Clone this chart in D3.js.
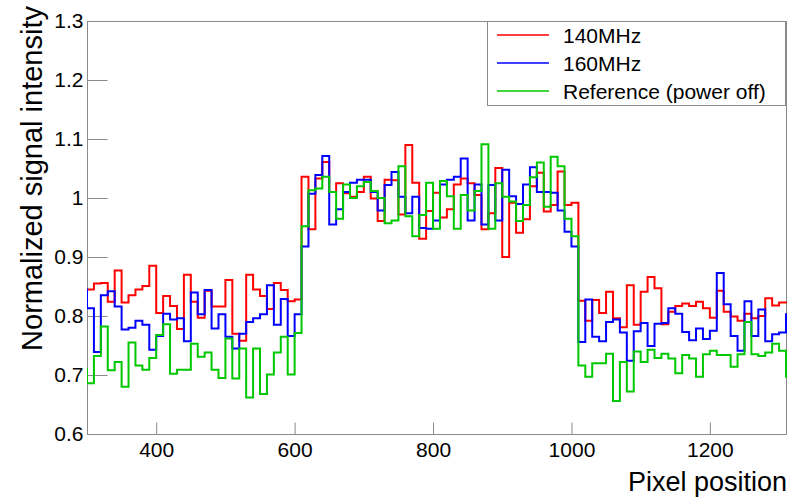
<!DOCTYPE html>
<html><head><meta charset="utf-8">
<script src="https://cdn.jsdelivr.net/npm/d3@7"></script>
<style>
html,body{margin:0;padding:0;background:#fff;}
text{font-family:"Liberation Sans",Arial,Helvetica,sans-serif;fill:#000;}
</style></head>
<body><svg id="c" width="800" height="504"></svg>
<script>
// ---- data ----
const firstBinLow = 290;   // first bin (partly outside the axis range)
const binWidth = 10;
const xDomain = [300, 1310];
const yDomain = [0.6, 1.3];
const xMajorTicks = [400, 600, 800, 1000, 1200];
const xTickLabels = ["400", "600", "800", "1000", "1200"];
const yMajorTicks = [0.6, 0.7, 0.8, 0.9, 1.0, 1.1, 1.2, 1.3];
const yTickLabels = ["0.6", "0.7", "0.8", "0.9", "1", "1.1", "1.2", "1.3"];
const seriesNames = ["140MHz", "160MHz", "Reference (power off)"];
const xTitle = "Pixel position";
const yTitle = "Normalized signal intensity";

const red140 = [0.845,
 0.845,0.855,0.856,0.824,0.877,0.823,0.835,0.845,0.851,0.885,
 0.805,0.834,0.817,0.778,0.870,0.824,0.797,0.843,0.816,0.816,
 0.861,0.770,0.758,0.870,0.845,0.834,0.812,0.856,0.844,0.825,
 0.828,1.036,0.947,1.033,1.061,1.010,1.025,1.008,1.002,1.010,
 1.036,0.999,0.961,1.031,1.030,0.972,1.090,1.026,0.931,0.978,
 1.009,0.967,0.981,1.023,1.033,1.025,1.005,0.947,0.974,1.051,
 0.900,0.992,0.941,0.964,1.020,1.043,0.977,0.988,1.045,0.988,
 0.992,0.826,0.792,0.827,0.805,0.841,0.796,0.781,0.852,0.785,
 0.841,0.866,0.847,0.786,0.807,0.817,0.821,0.817,0.824,0.813,
 0.797,0.843,0.807,0.799,0.792,0.804,0.796,0.800,0.830,0.818,
 0.823,0.823];
const blue160 = [0.845,
 0.813,0.739,0.835,0.842,0.816,0.777,0.780,0.792,0.785,0.743,
 0.766,0.804,0.794,0.796,0.757,0.840,0.803,0.844,0.779,0.803,
 0.765,0.745,0.770,0.790,0.796,0.803,0.852,0.785,0.829,0.766,
 0.803,0.918,1.007,1.039,1.071,0.955,0.981,1.010,1.026,1.031,
 1.031,1.010,0.979,1.022,1.044,1.002,0.974,1.002,0.949,0.948,
 0.962,1.023,1.031,1.036,1.067,0.962,1.023,0.955,1.022,0.962,
 1.048,1.003,0.990,1.023,1.052,1.010,1.010,1.009,0.979,0.943,
 0.918,0.756,0.828,0.765,0.757,0.790,0.794,0.772,0.724,0.774,
 0.788,0.749,0.787,0.788,0.813,0.804,0.773,0.759,0.779,0.761,
 0.775,0.873,0.820,0.766,0.741,0.825,0.766,0.811,0.757,0.769,
 0.772,0.803];
const greenRef = [0.710,
 0.686,0.732,0.782,0.708,0.722,0.680,0.755,0.716,0.709,0.729,
 0.768,0.786,0.702,0.709,0.709,0.753,0.731,0.738,0.709,0.695,
 0.762,0.694,0.745,0.662,0.745,0.668,0.701,0.738,0.765,0.701,
 0.771,0.952,1.013,1.016,1.036,1.010,0.965,1.023,1.000,1.020,
 1.027,1.012,1.000,0.957,0.962,1.054,0.969,0.935,0.971,1.026,
 0.948,1.029,1.003,0.948,1.005,0.979,1.012,1.091,0.948,1.025,
 1.002,0.994,0.961,0.988,1.035,1.060,0.985,1.070,1.054,0.965,
 0.935,0.716,0.697,0.720,0.720,0.736,0.656,0.722,0.672,0.740,
 0.722,0.743,0.729,0.736,0.728,0.703,0.734,0.728,0.697,0.735,
 0.741,0.734,0.734,0.714,0.735,0.790,0.735,0.732,0.738,0.753,
 0.741,0.697];
const seriesColors = ["#ff0000", "#0000ff", "#00c800"];

// ---- drawing ----
const svg = d3.select("#c");
const L = 87, R = 786, T = 21, B = 434;
const x = d3.scaleLinear().domain(xDomain).range([L, R]);
const y = d3.scaleLinear().domain(yDomain).range([B, T]);
const axisCol = "#8a8a8a";

svg.append("defs").append("clipPath").attr("id", "clip")
  .append("rect").attr("x", L).attr("y", T - 2).attr("width", R - L + 1).attr("height", B - T + 2);

// frame
svg.append("rect").attr("x", L + 0.5).attr("y", T + 0.5)
  .attr("width", R - L).attr("height", B - T)
  .attr("fill", "none").attr("stroke", axisCol).attr("stroke-width", 1);

// x axis
const xMinor = d3.range(300, 1311, 50).filter(v => !xMajorTicks.includes(v));
const gx = svg.append("g").attr("transform", `translate(0,${B + 0.5})`);
gx.call(d3.axisBottom(x).tickValues(xMinor).tickSize(-6).tickFormat(""));
gx.call(d3.axisBottom(x).tickValues(xMajorTicks).tickSize(-12).tickPadding(8)
  .tickFormat((d, i) => xTickLabels[i]));
gx.select(".domain").remove();
gx.selectAll("line").attr("stroke", axisCol);
gx.selectAll("text").attr("font-size", 21).style("font-family", '"Liberation Sans",Arial,sans-serif');

// y axis
const yMinor = d3.range(0, 36).map(i => +(0.6 + i * 0.02).toFixed(2)).filter(v => Math.abs(Math.round(v * 10) - v * 10) > 1e-6);
const gy = svg.append("g").attr("transform", `translate(${L + 0.5},0)`);
gy.call(d3.axisLeft(y).tickValues(yMinor).tickSize(-11).tickFormat(""));
gy.call(d3.axisLeft(y).tickValues(yMajorTicks).tickSize(-20).tickPadding(4)
  .tickFormat((d, i) => yTickLabels[i]));
gy.select(".domain").remove();
gy.selectAll("line").attr("stroke", axisCol);
gy.selectAll("text").attr("font-size", 21).style("font-family", '"Liberation Sans",Arial,sans-serif');

// histograms
const stepLine = d3.line().x(d => x(d[0])).y(d => y(d[1])).curve(d3.curveStepAfter);
[red140, blue160, greenRef].forEach((vals, k) => {
  const pts = vals.map((v, i) => [firstBinLow + i * binWidth, v]);
  pts.push([firstBinLow + vals.length * binWidth, vals[vals.length - 1]]);
  svg.append("path").attr("d", stepLine(pts)).attr("clip-path", "url(#clip)")
    .attr("fill", "none").attr("stroke", seriesColors[k]).attr("stroke-width", 2);
});

// titles
svg.append("text").attr("x", R + 1).attr("y", 491).attr("text-anchor", "end")
  .attr("font-size", 27).text(xTitle);
svg.append("text").attr("transform", `translate(42,6) rotate(-90)`).attr("text-anchor", "end")
  .attr("font-size", 29).text(yTitle);

// legend
const lg = svg.append("g");
lg.append("rect").attr("x", 487.5).attr("y", 21.5).attr("width", 298).attr("height", 84)
  .attr("fill", "#fff").attr("stroke", axisCol);
seriesNames.forEach((n, i) => {
  const cy = 35 + i * 28;
  lg.append("line").attr("x1", 497).attr("x2", 549).attr("y1", cy).attr("y2", cy)
    .attr("stroke", seriesColors[i]).attr("stroke-width", 1.5);
  lg.append("text").attr("x", 563).attr("y", cy).attr("dy", "0.36em")
    .attr("font-size", 21).text(n);
});
</script></body></html>
